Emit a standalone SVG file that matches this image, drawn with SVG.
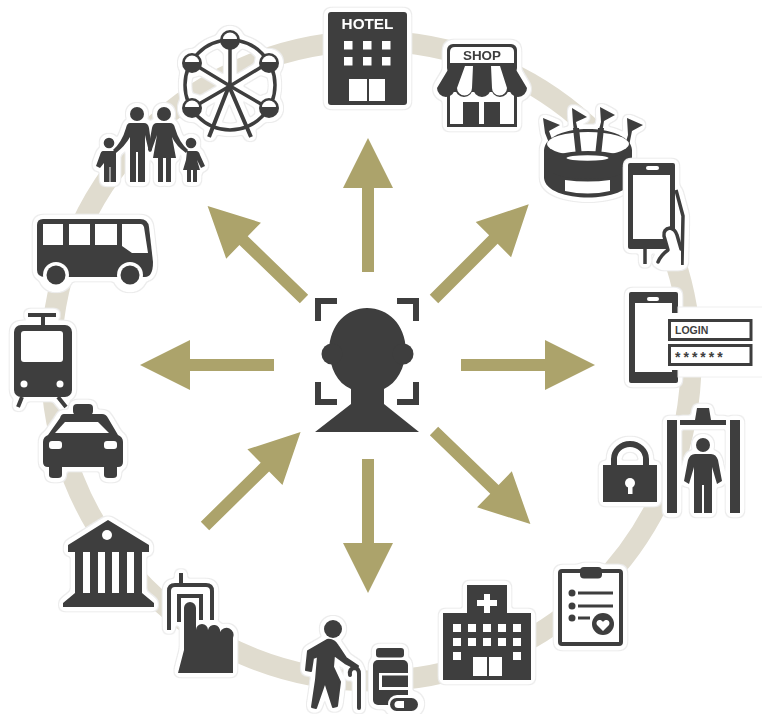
<svg xmlns="http://www.w3.org/2000/svg" width="762" height="714" viewBox="0 0 762 714">
<style>
.d{fill:#3e3e3e}.w{fill:#fff}
.s{fill:none;stroke:#3e3e3e}
.r{stroke-linecap:round;stroke-linejoin:round}
.h{filter:url(#halo)}
.t{font-family:"Liberation Sans",Arial,sans-serif;font-weight:700}
.ar{fill:#aca36b}
</style>
<defs>
<filter id="halo" x="-40%" y="-40%" width="180%" height="180%" color-interpolation-filters="sRGB">
<feGaussianBlur in="SourceAlpha" stdDeviation="2.600" result="b"/>
<feComponentTransfer in="b" result="t"><feFuncA type="linear" slope="30" intercept="-0.600"/></feComponentTransfer>
<feMorphology in="t" operator="dilate" radius="1" result="t2"/>
<feFlood flood-color="#ececec"/><feComposite in2="t2" operator="in" result="g"/>
<feFlood flood-color="#fff"/><feComposite in2="t" operator="in" result="w"/>
<feMerge><feMergeNode in="g"/><feMergeNode in="w"/><feMergeNode in="SourceGraphic"/></feMerge>
</filter>
<path id="arrow" d="M0-6H84V-25L134 0L84 25V6H0Z"/>
</defs>
<rect width="762" height="714" fill="#fff"/>
<circle id="ring" cx="371" cy="361" r="320" fill="none" stroke="#e0dccf" stroke-width="21"/>

<g id="connectors" class="ar">
<use href="#arrow" transform="translate(368 272) rotate(-90)"/>
<use href="#arrow" transform="translate(434 299) rotate(-45)"/>
<use href="#arrow" transform="translate(461 365)"/>
<use href="#arrow" transform="translate(434 431) rotate(44)"/>
<use href="#arrow" transform="translate(368 459) rotate(90)"/>
<use href="#arrow" transform="translate(205 526) rotate(-44.500)"/>
<use href="#arrow" transform="translate(274 365) rotate(180)"/>
<use href="#arrow" transform="translate(304 299) rotate(-136)"/>
</g>

<g id="person">
<path class="d" d="M351 389C337 383 330 368 329 350C330 324 347 308 367 308C388 308 405 324 406 350C405 368 397 383 384 389V404L419 432H315L351 404Z"/>
<circle class="d" cx="332" cy="354" r="10.500"/><circle class="d" cx="403" cy="354" r="10.500"/>
<path class="d" d="M315 298H337V304H321V321H315ZM419 298H397V304H413V321H419ZM315 405H337V399H321V382H315ZM419 405H397V399H413V382H419Z"/>
</g>

<g id="wheel" class="h">
<g class="s"><circle cx="230" cy="85" r="45" stroke-width="3.500"/>
<path d="M230 40V86M192 63L230 86L268 63M192 108L230 86L268 108" stroke-width="3.500"/>
<path d="M209 137L229 86L251 137" stroke-width="4"/></g>
<g>
<circle class="d" cx="230" cy="40" r="10"/><path class="w" d="M223 39a7 6.500 0 0 1 14 0Z"/>
<circle class="d" cx="192" cy="63" r="10"/><path class="w" d="M185 62a7 6.500 0 0 1 14 0Z"/>
<circle class="d" cx="269" cy="63" r="10"/><path class="w" d="M262 62a7 6.500 0 0 1 14 0Z"/>
<circle class="d" cx="192" cy="108" r="10"/><path class="w" d="M185 107a7 6.500 0 0 1 14 0Z"/>
<circle class="d" cx="269" cy="108" r="10"/><path class="w" d="M262 107a7 6.500 0 0 1 14 0Z"/>
</g>
</g>

<g id="hotel" class="h">
<rect class="d" x="328" y="12" width="79" height="93" rx="3"/>
<text class="t" x="367.500" y="29" font-size="15.300" fill="#fff" text-anchor="middle">HOTEL</text>
<path class="w" d="M344 41h8.500v8.500h-8.500zM363 41h8.500v8.500h-8.500zM382 41h8.500v8.500h-8.500zM344 57h8.500v8.500h-8.500zM363 57h8.500v8.500h-8.500zM382 57h8.500v8.500h-8.500zM349 79h18v22h-18zM369 79h16v22h-16z"/>
</g>

<g id="shop" class="h">
<rect class="d" x="447" y="44" width="70" height="30" rx="6"/>
<path class="w" d="M450 63V52Q450 47 455 47H509Q514 47 514 52V63Z"/>
<text class="t" x="482" y="60" font-size="13.400" fill="#3e3e3e" text-anchor="middle">SHOP</text>
<rect class="d" x="447" y="85" width="70" height="42"/>
<rect class="w" x="450" y="92" width="64" height="32"/>
<path class="d" d="M463 102H479V124H463ZM484 102H500V124H484Z"/>
<path class="d" d="M452 63H512L527 88A9 9 0 0 1 509 88A9 9 0 0 1 491 88A9 9 0 0 1 473 88A9 9 0 0 1 455 88A9 9 0 0 1 437 88Z"/>
<path class="w" d="M465 66H473L472 88A7.500 7.500 0 0 1 457 88ZM491 66H500L507 88A7.500 7.500 0 0 1 492 88Z"/>
</g>

<g id="stadium" class="h">
<path class="d" d="M543 118L560 125L549 131L553 142L549 143L545 133ZM572 108L587 117L576 122L580 140L575 140L573 123ZM600 107L615 115L604 121L601 140L596 140L601 122ZM627 118L643 125L632 131L629 146L625 145L628 135Z"/>
<path class="d" d="M544 150C546 122 630 122 632 150V178C630 204 546 204 544 178Z"/>
<ellipse class="w" cx="588" cy="144" rx="41" ry="12"/>
<path class="d" d="M573 128L579 128L582 156L576 156ZM598 128L604 128L601 156L595 156Z"/>
<ellipse class="d" cx="588" cy="165" rx="44" ry="14"/>
<ellipse class="w" cx="587.500" cy="158" rx="21" ry="2.800"/>
<path class="w" d="M565 180Q588 183 610 180V191Q588 196 565 191Z"/>
</g>

<g id="phonehand" class="h">
<g class="s"><path d="M676 190L683 216L682 265" stroke-width="3.500"/><path d="M645 249V264" stroke-width="3.500"/></g>
<rect class="d" x="628" y="163" width="47" height="86" rx="2"/>
<rect class="w" x="633" y="175" width="37" height="64"/>
<rect class="w" x="646" y="166" width="13" height="4" rx="2"/>
<path class="w" d="M668 251L664 236Q663 229 670 228Q675 229 677 235L681 249V266H660Z"/>
<path class="s r" stroke-width="3.500" d="M658 262Q661 255 668 250L664 236Q663 229 670 228Q675 229 677 235L681 249"/>
</g>

<g id="login" class="h">
<rect class="d" x="629" y="292" width="49" height="91" rx="2"/>
<rect class="w" x="635" y="303" width="37" height="69"/>
<rect class="w" x="647" y="297" width="12" height="4" rx="2"/>
</g>
<g id="loginpanel">
<rect class="w" x="678" y="307" width="85" height="70" stroke="#f0f0f0"/>
<rect class="w" x="672" y="313" width="8" height="57"/>
<rect x="669.500" y="320.500" width="81.500" height="19" fill="#fff" stroke="#3e3e3e" stroke-width="3"/>
<rect x="669.500" y="345.500" width="81.500" height="19" fill="#fff" stroke="#3e3e3e" stroke-width="3"/>
<text class="t" x="675" y="333.500" font-size="10.500" fill="#3e3e3e">LOGIN</text>
<text class="t" x="675" y="361.500" font-size="14" letter-spacing="3" fill="#3e3e3e">******</text>
</g>

<g id="gate" class="h">
<path class="d" d="M667 420H677V513H667ZM730 420H740V513H730ZM680 420H695L697 408H709L711 420H726V425H680Z"/>
<circle class="d" cx="703" cy="445" r="7"/>
<path class="d" d="M695 454H711Q716 454 718 460L722 481L717 484L712 467V513H704V485H702V513H694V467L689 484L684 481L688 460Q690 454 695 454Z"/>
</g>

<g id="lock" class="h">
<path class="s" stroke-width="6" d="M614 468V459A16 15 0 0 1 646 459V468"/>
<rect class="d" x="603" y="465" width="54" height="37"/>
<circle class="w" cx="630" cy="483" r="5"/><rect class="w" x="628" y="484" width="4.500" height="10"/>
</g>

<g id="clipboard" class="h">
<rect x="560" y="571" width="61" height="73" rx="2" fill="#fff" stroke="#3e3e3e" stroke-width="4"/>
<rect class="d" x="580" y="567" width="22" height="11.500" rx="4"/>
<circle class="d" cx="572" cy="593" r="3.500"/><circle class="d" cx="572" cy="606" r="3.500"/><circle class="d" cx="572" cy="618" r="3.500"/>
<path class="d" d="M578 591.500H613V594.500H578ZM578 604.500H613V607.500H578ZM578 616.500H590V619.500H578Z"/>
<circle class="d" cx="603" cy="624" r="11"/>
<path class="w" d="M603 631L597 625C595 621 600 618 603 622C606 618 611 621 609 625Z"/>
</g>

<g id="hospital" class="h">
<path class="d" d="M467 585H507V613H531V680H443V613H467Z"/>
<path class="w" d="M484 594H490V600H497V606H490V613H484V606H477V600H484Z"/>
<path class="w" d="M453 624h8v8h-8zM468 624h8v8h-8zM483 624h8v8h-8zM498 624h8v8h-8zM513 624h8v8h-8zM453 638h8v8h-8zM468 638h8v8h-8zM483 638h8v8h-8zM498 638h8v8h-8zM513 638h8v8h-8zM453 652h8v8h-8zM513 652h8v8h-8zM473 657h14v19h-14zM489 657h13v19h-13z"/>
</g>

<g id="bottle" class="h">
<rect class="d" x="376" y="648" width="28" height="9.500" rx="3"/>
<rect class="d" x="373" y="660" width="35" height="45" rx="5"/>
<path class="w" fill-rule="evenodd" d="M379 673H408V690H379ZM382 675.500V687H408V675.500Z"/>
<rect class="w" x="388" y="695" width="32" height="18" rx="9"/>
<rect class="d" x="390" y="698" width="28" height="13" rx="6.500"/>
<path class="w" d="M398 701H404V708H398A3.500 3.500 0 0 1 398 701Z"/>
</g>

<g id="elder" class="h">
<circle class="d" cx="333" cy="629" r="9"/>
<path class="d" stroke="#3e3e3e" stroke-width="2" stroke-linejoin="round" d="M327 640L308 651L306 670L311 671L313 658L318 656L316 680L312 707L316 708L325 682L333 707L337 706L340 682L333 667L334 655L345 663L357 669L358 666L346 658L338 646Q334 639 327 640Z"/>
<path class="s r" stroke-width="4" d="M350 675Q349 669 354 668Q359 668 359 674V708"/>
</g>

<g id="touch" class="h">
<path class="s" stroke-width="4" d="M181 573V585M169 630V591Q169 585 175 585H206Q212 585 212 591V620M179 622V596H201V620"/>
<path class="d" d="M184 608A6 6 0 0 1 196 608V630A6 6 0 0 1 208 630A6 6 0 0 1 220 632A6.500 6.500 0 0 1 233 638V673H178L184 650Z"/>
</g>

<g id="bank" class="h">
<path class="d" d="M108 520L149 545V552H142V593L154 603V607H63V603L75 593V552H68V545Z"/>
<circle class="w" cx="107" cy="535" r="5"/>
<path class="w" d="M83 552h7v41h-7zM98 552h7v41h-7zM112 552h7v41h-7zM127 552h7v41h-7z"/>
</g>

<g id="tram" class="h">
<path class="s" stroke-width="4" d="M22 397L18 407M58 397L66 407"/>
<path class="d" d="M28 313H56V317H45V325H41V317H28Z"/>
<rect class="d" x="14" y="325" width="58" height="72" rx="7"/>
<rect class="w" x="21" y="331" width="42" height="31" rx="3"/>
<circle class="w" cx="24" cy="384" r="3.500"/><circle class="w" cx="60" cy="384" r="3.500"/>
</g>

<g id="taxi" class="h">
<rect class="d" x="73" y="404" width="20" height="11" rx="4"/>
<path class="d" d="M64 414H102Q106 414 108 418L118 435Q123 437 123 442V462Q123 467 118 467H117V475Q117 478 113 478H108Q104 478 104 475V467H62V475Q62 478 58 478H53Q49 478 49 475V467H48Q43 467 43 462V442Q43 437 48 435L60 418Q61 414 64 414Z"/>
<path class="w" d="M65 422H98L109 433H55Z"/>
<rect class="w" x="49" y="441" width="13" height="8" rx="3"/><rect class="w" x="104" y="441" width="13" height="8" rx="3"/>
</g>

<g id="bus" class="h">
<path class="d" d="M43 219H140Q148 219 149 227L153 262Q153 277 145 277H45Q37 277 37 270V225Q37 219 43 219Z"/>
<path class="w" d="M43 224h20v21h-20zM69 224h21v21h-21zM95 224h22v21h-22zM122 224H141Q143 224 144 227L148 253H132L122 246Z"/>
<circle class="w" cx="56" cy="275" r="13"/><circle class="w" cx="130" cy="275" r="13"/>
<circle class="d" cx="56" cy="275" r="9.500"/><circle class="d" cx="130" cy="275" r="9.500"/>
</g>

<g id="family" class="h">
<circle class="d" cx="137" cy="114" r="7"/><circle class="d" cx="164" cy="114" r="7"/><circle class="d" cx="109" cy="143" r="5.300"/><circle class="d" cx="191" cy="143" r="5.300"/>
<path class="d" d="M130 123H144Q148 123 149 128L152 150L149 152L145 135V182H138V152H136V182H130V137Q125 146 116 153L113 150Q122 142 126 128Q127 123 130 123Z"/>
<path class="d" d="M157 123H170Q174 123 175 128Q179 142 188 150L186 153Q176 146 172 137L176 158H171V182H166V158H163V182H158V158H153L157 135L151 152L148 150L152 128Q153 123 157 123Z"/>
<path class="d" d="M103 151H116V182H110.500V167H109.500V182H104V163L100 168L96 166L100 155Q101 151 103 151Z"/>
<path class="d" d="M187 151H196Q199 151 200 155L205 166L201 168L197 160L200 170H197V182H193V170H191V182H187V170H183L186 160Z"/>
</g>
</svg>
